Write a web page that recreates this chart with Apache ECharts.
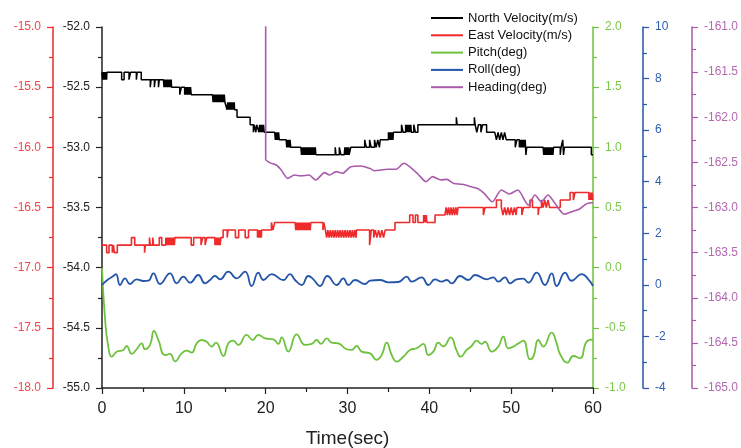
<!DOCTYPE html>
<html>
<head>
<meta charset="utf-8">
<script src="https://cdn.jsdelivr.net/npm/echarts@6/dist/echarts.min.js"></script>
<style>
html, body { margin: 0; background: #fff; }
#chart { width: 741px; height: 448px; }
</style>
</head>
<body>
<div id="chart"></div>
<script>
// 数据：台阶序列 [t, 值] 或 [t, 值A, 值B, 间隔] 表示在两个量化值之间快速跳变
var xTicks = [0, 10, 20, 30, 40, 50, 60];

var northSteps = [
    [0, -52.375, -52.4375], [0.6, -52.375],
    [2.4, -52.4375], [2.7, -52.375], [3.3, -52.4375], [3.5, -52.375], [4.2, -52.4375], [4.3, -52.375], [4.8, -52.4375],
    [5.9, -52.5], [6.0, -52.4375], [6.4, -52.5], [6.5, -52.4375], [6.9, -52.5], [7.0, -52.4375],
    [7.5, -52.4375, -52.5], [8.5, -52.5],
    [9.5, -52.5625], [9.7, -52.5], [10.1, -52.5625, -52.5], [10.9, -52.5625],
    [13.5, -52.5625, -52.625], [15.1, -52.625], [15.2, -52.625, -52.6875], [16.2, -52.6875],
    [16.5, -52.75], [18.1, -52.8125], [18.5, -52.875], [18.6, -52.8125], [18.8, -52.875], [18.9, -52.8125],
    [19.1, -52.8125, -52.875], [19.9, -52.875],
    [21.1, -52.875, -52.9375], [21.7, -52.9375], [22.5, -52.9375, -53.0], [23.1, -53.0],
    [24.3, -53.0, -53.0625], [26.2, -53.0625],
    [28.5, -53.0], [28.6, -53.0625], [29.0, -53.0], [29.2, -53.0625], [29.6, -53.0625, -53.0], [30.2, -53.0625], [30.4, -53.0],
    [32.1, -52.9375], [32.3, -53.0], [32.7, -52.9375], [32.9, -53.0], [33.3, -52.9375, -53.0, 0.2], [34.0, -52.9375],
    [35.0, -52.875, -52.9375], [35.6, -52.875],
    [36.6, -52.8125], [36.8, -52.875], [37.1, -52.8125, -52.875], [37.8, -52.875], [38.1, -52.8125], [38.3, -52.875], [38.6, -52.8125],
    [43.3, -52.75], [43.4, -52.8125], [45.5, -52.75], [45.6, -52.8125], [45.8, -52.875], [46.0, -52.8125], [46.3, -52.875], [46.5, -52.8125], [47.0, -52.875],
    [48.0, -52.875, -52.9375, 0.2], [49.5, -52.9375],
    [50.5, -53.0], [50.7, -52.9375], [51.0, -53.0, -52.9375], [51.8, -53.0625], [51.9, -53.0],
    [53.9, -53.0, -53.0625], [55.2, -53.0], [56.0, -53.0625], [56.1, -53.0], [56.3, -52.9375], [56.4, -53.0625], [56.5, -53.0],
    [59.8, -53.0625]
];

var eastSteps = [
    [0, -16.8125], [0.57, -16.875], [0.86, -16.8125], [1.26, -16.875], [1.4, -16.8125], [1.5, -16.875], [1.87, -16.8125],
    [3.6, -16.75], [4.0, -16.8125], [5.2, -16.875], [5.3, -16.8125], [5.8, -16.75], [5.9, -16.8125], [6.2, -16.75], [6.3, -16.8125],
    [7.0, -16.75], [7.3, -16.8125], [7.8, -16.75, -16.8125], [8.9, -16.75],
    [10.9, -16.8125], [11.2, -16.75], [12.1, -16.8125], [12.3, -16.75], [12.6, -16.8125], [12.8, -16.75],
    [13.8, -16.8125, -16.75], [14.6, -16.75], [14.8, -16.6875], [15.3, -16.75], [15.4, -16.6875],
    [16.3, -16.75], [16.7, -16.6875], [17.5, -16.75], [17.9, -16.6875], [19.0, -16.75, -16.6875], [19.5, -16.6875],
    [20.7, -16.625, -16.6875, 0.2], [21.3, -16.625], [23.6, -16.625, -16.6875], [25.6, -16.625], [27.0, -16.6875], [27.1, -16.625],
    [27.3, -16.6875, -16.75, 0.15], [31.1, -16.6875], [32.7, -16.8125], [32.9, -16.6875], [33.2, -16.75, -16.6875, 0.2], [34.6, -16.6875],
    [35.8, -16.625], [37.6, -16.5625], [38.0, -16.625], [38.3, -16.5625], [38.6, -16.625], [39.3, -16.5625, -16.625], [39.7, -16.625],
    [40.7, -16.5625], [41.9, -16.5625, -16.5, 0.15], [43.5, -16.5], [46.6, -16.5625], [46.8, -16.5], [48.2, -16.4375], [48.8, -16.5],
    [49.0, -16.5625, -16.5, 0.2], [50.7, -16.5], [51.3, -16.5625], [51.5, -16.5], [52.3, -16.4375], [52.6, -16.5], [53.3, -16.5625], [53.4, -16.5],
    [53.7, -16.4375, -16.5, 0.2], [54.7, -16.5], [56.0, -16.4375], [57.2, -16.375], [57.6, -16.4375], [57.8, -16.375],
    [59.5, -16.4375, -16.375]
];

var pitchData = [
    [0, 0.0], [0.4, -0.45], [0.77, -0.656], [1.18, -0.74], [1.79, -0.698], [2.61, -0.684], [3.01, -0.651], [3.63, -0.717],
    [4.24, -0.678], [4.85, -0.629], [5.25, -0.678], [5.87, -0.642], [6.35, -0.526], [6.88, -0.601], [7.70, -0.726],
    [8.31, -0.717], [8.92, -0.778], [9.74, -0.712], [10.35, -0.690], [10.96, -0.706], [11.57, -0.629], [12.18, -0.601],
    [12.79, -0.615], [13.40, -0.656], [13.93, -0.623], [14.83, -0.734], [15.44, -0.629], [16.05, -0.607], [16.66, -0.642],
    [17.68, -0.559], [18.41, -0.601], [19.10, -0.559], [19.92, -0.587], [20.94, -0.595], [21.55, -0.634], [21.96, -0.579],
    [22.77, -0.698], [23.79, -0.554], [24.81, -0.642], [25.62, -0.634], [26.23, -0.601], [26.76, -0.634], [27.46, -0.587],
    [28.07, -0.623], [28.88, -0.629], [29.90, -0.678], [30.51, -0.684], [31.12, -0.651], [31.73, -0.698], [32.75, -0.712],
    [33.56, -0.767], [34.18, -0.726], [34.79, -0.623], [35.40, -0.726], [36.01, -0.781], [36.82, -0.74], [37.64, -0.684],
    [38.45, -0.670], [39.27, -0.634], [39.88, -0.726], [40.49, -0.698], [41.10, -0.623], [41.71, -0.656], [42.61, -0.579],
    [43.34, -0.690], [43.83, -0.74], [44.56, -0.684], [45.17, -0.651], [45.78, -0.607], [46.40, -0.634], [46.80, -0.615],
    [47.62, -0.698], [48.43, -0.656], [49.04, -0.573], [49.65, -0.670], [50.27, -0.656], [50.88, -0.629], [51.49, -0.607],
    [52.30, -0.762], [52.71, -0.74], [53.32, -0.601], [53.93, -0.656], [54.95, -0.54], [55.56, -0.629], [55.97, -0.717],
    [56.86, -0.789], [57.60, -0.734], [58.41, -0.753], [59.23, -0.615], [60, -0.596]
];

var rollData = [
    [0, 0.0], [0.77, 0.215], [1.39, 0.344], [1.71, 0.42], [2.2, -0.005], [2.81, 0.253], [3.42, 0.033], [4.24, 0.215],
    [5.05, 0.15], [5.66, 0.16], [6.27, 0.447], [7.09, 0.033], [8.31, 0.447], [9.13, 0.059], [9.94, 0.318], [10.76, 0.085],
    [11.77, 0.383], [12.59, 0.059], [13.2, 0.189], [13.81, 0.344], [14.42, 0.215], [15.44, 0.512], [16.46, 0.253],
    [17.48, 0.512], [18.29, -0.044], [19.1, 0.473], [19.72, 0.189], [20.73, 0.42], [22.16, 0.189], [22.97, 0.42],
    [23.59, 0.189], [24.4, -0.005], [25.21, 0.344], [25.83, 0.215], [26.64, -0.044], [27.54, 0.344], [28.68, -0.005],
    [29.49, 0.253], [30.1, -0.005], [30.92, 0.189], [32.14, 0.033], [32.75, 0.16], [33.97, 0.189], [35.0, 0.098],
    [36.21, 0.11], [37.23, 0.318], [37.84, 0.124], [39.06, 0.292], [39.88, -0.005], [40.69, 0.215], [41.51, 0.124],
    [42.12, 0.189], [42.73, 0.059], [43.75, 0.344], [44.77, 0.189], [45.58, 0.383], [47.01, 0.215], [47.82, 0.292],
    [48.43, 0.124], [49.25, 0.292], [49.86, 0.059], [50.67, 0.215], [51.49, 0.24], [52.1, 0.085], [53.12, 0.473],
    [54.13, -0.005], [54.95, 0.447], [55.56, -0.044], [56.58, 0.473], [57.39, 0.16], [58.62, 0.42], [59.43, 0.215], [60, -0.044]
];

var headingData = [
    [20.0, -160.0], [20.0, -162.466], [20.5, -162.503], [21.3, -162.529], [21.9, -162.584], [22.7, -162.677], [23.5, -162.64],
    [24.3, -162.65], [25.3, -162.64], [26.1, -162.695], [27.2, -162.614], [27.8, -162.64], [28.6, -162.603], [29.4, -162.62],
    [30.4, -162.548], [31.6, -162.54], [32.7, -162.566], [33.3, -162.592], [34.1, -162.584], [34.9, -162.577], [35.9, -162.577],
    [36.9, -162.51], [37.6, -162.548], [38.6, -162.629], [39.6, -162.714], [40.4, -162.658], [41.4, -162.695], [42.1, -162.688],
    [43.0, -162.733], [44.0, -162.743], [45.1, -162.77], [45.9, -162.79], [46.7, -162.843], [47.7, -162.936], [48.8, -162.806],
    [49.8, -162.85], [50.8, -162.806], [52.1, -162.972], [52.9, -162.861], [53.7, -162.936], [54.5, -162.861], [55.3, -162.947],
    [56.5, -163.075], [57.3, -163.05], [58.3, -163.02], [59.3, -162.954], [60, -162.947]
];

var seriesNames = ['North Velocity(m/s)', 'East Velocity(m/s)', 'Pitch(deg)', 'Roll(deg)', 'Heading(deg)'];
var colors = ['#000000', '#ee2a2a', '#6fc23f', '#2455a8', '#a95aaa'];
var axisColors = ['#222222', '#ee2a2a', '#6fc23f', '#2455a8', '#a95aaa'];
var labelColors = ['#222222', '#f0484b', '#7cc84a', '#2f5fae', '#b36ab3'];

// 展开台阶：跳变段画成密集的上下切换
function expandSteps(list, tEnd) {
    var out = [];
    for (var i = 0; i < list.length; i++) {
        var row = list[i];
        var t1 = i + 1 < list.length ? list[i + 1][0] : tEnd;
        if (row.length < 3) {
            out.push([row[0], row[1]]);
            continue;
        }
        var dt = row[3] || 0.08, flip = false;
        for (var t = row[0]; t < t1 - 1e-6; t += dt) {
            out.push([t, flip ? row[2] : row[1]]);
            flip = !flip;
        }
    }
    out.push([tEnd, out[out.length - 1][1]]);
    return out;
}

var font = 'Liberation Sans, Arial, sans-serif';

function yAx(pos, off, min, max, interval, i, digits) {
    var c = axisColors[i];
    return {
        type: 'value',
        position: pos,
        offset: off,
        min: min,
        max: max,
        interval: interval,
        splitLine: { show: false },
        axisLine: { show: true, onZero: false, lineStyle: { color: c, width: 1.5 } },
        axisTick: { show: true, length: 6, lineStyle: { color: c, width: 1.2 } },
        minorTick: { show: true, splitNumber: 2, length: 4, lineStyle: { color: c, width: 1.2 } },
        axisLabel: {
            margin: 12,
            color: labelColors[i],
            fontSize: 12,
            fontFamily: font,
            formatter: function (v) { return v.toFixed(digits); }
        }
    };
}

var chart = echarts.init(document.getElementById('chart'));
chart.setOption({
    animation: false,
    backgroundColor: '#fff',
    grid: { left: 102, right: 148, top: 27, bottom: 60, outerBoundsMode: 'none', containLabel: false },
    legend: {
        left: 431,
        top: 11,
        padding: 0,
        orient: 'vertical',
        icon: 'rect',
        itemWidth: 32,
        itemHeight: 2,
        itemGap: 3.3,
        textStyle: { fontSize: 13, fontFamily: font, color: '#111', lineHeight: 14 },
        data: seriesNames
    },
    xAxis: {
        type: 'value',
        min: 0,
        max: 60,
        interval: 10,
        name: 'Time(sec)',
        nameLocation: 'middle',
        nameGap: 41,
        nameTextStyle: { fontSize: 19, fontFamily: font, color: '#222' },
        splitLine: { show: false },
        axisLine: { onZero: false, lineStyle: { color: '#222', width: 1.5 } },
        axisTick: { length: 6, lineStyle: { color: '#222', width: 1.2 } },
        minorTick: { show: true, splitNumber: 2, length: 4, lineStyle: { color: '#222', width: 1.2 } },
        axisLabel: {
            margin: 13, fontSize: 16, fontFamily: font, color: '#222',
            formatter: function (v) { return xTicks.indexOf(v) >= 0 ? String(v) : ''; }
        }
    },
    yAxis: [
        yAx('left', 0, -55, -52, 0.5, 0, 1),
        yAx('left', 49, -18, -15, 0.5, 1, 1),
        yAx('right', 0, -1, 2, 0.5, 2, 1),
        yAx('right', 50, -4, 10, 2, 3, 0),
        yAx('right', 99, -165, -161, 0.5, 4, 1)
    ],
    series: [
        { name: seriesNames[0], type: 'line', yAxisIndex: 0, step: 'end', symbol: 'none',
          lineStyle: { color: colors[0], width: 1.5 }, itemStyle: { color: colors[0] },
          data: expandSteps(northSteps, 60) },
        { name: seriesNames[1], type: 'line', yAxisIndex: 1, step: 'end', symbol: 'none',
          lineStyle: { color: colors[1], width: 1.6 }, itemStyle: { color: colors[1] },
          data: expandSteps(eastSteps, 60) },
        { name: seriesNames[2], type: 'line', yAxisIndex: 2, smooth: 0.5, symbol: 'none',
          lineStyle: { color: colors[2], width: 1.8 }, itemStyle: { color: colors[2] },
          data: pitchData },
        { name: seriesNames[3], type: 'line', yAxisIndex: 3, smooth: 0.5, symbol: 'none',
          lineStyle: { color: colors[3], width: 1.8 }, itemStyle: { color: colors[3] },
          data: rollData },
        { name: seriesNames[4], type: 'line', yAxisIndex: 4, smooth: 0.25, symbol: 'none',
          lineStyle: { color: colors[4], width: 1.6 }, itemStyle: { color: colors[4] },
          data: headingData }
    ]
});
</script>
</body>
</html>
